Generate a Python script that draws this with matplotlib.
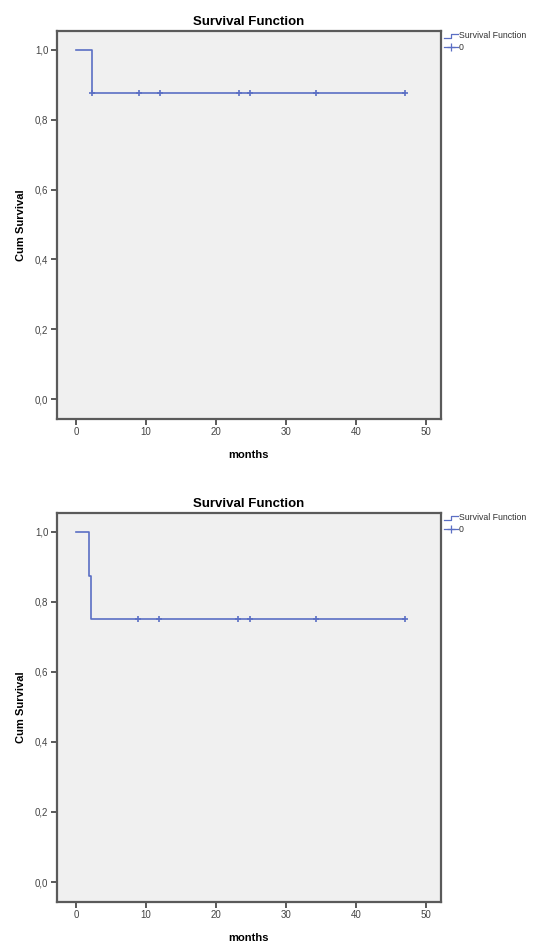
import matplotlib
matplotlib.use('Agg')
import matplotlib.pyplot as plt
from matplotlib.lines import Line2D

plt.rcParams['font.family'] = ['Liberation Sans', 'DejaVu Sans']

# survival data (months, 1 = event, 0 = censored)
top_times = [2.24, 2.24, 9.0, 12.0, 23.25, 24.8, 34.3, 47.0]
top_status = [1, 0, 0, 0, 0, 0, 0, 0]
bottom_times = [1.85, 2.1, 8.9, 11.9, 23.2, 24.8, 34.3, 47.0]
bottom_status = [1, 1, 0, 0, 0, 0, 0, 0]

x_ticks = [0, 10, 20, 30, 40, 50]
y_ticks = [0.0, 0.2, 0.4, 0.6, 0.8, 1.0]

LINE = '#5b6fc4'
BG = '#f0f0f0'
FRAME = '#5a5a5a'


def km(times, status):
    pairs = sorted(zip(times, status), key=lambda p: (p[0], -p[1]))
    n = len(pairs)
    s = 1.0
    xs, ys = [0.0], [1.0]
    cx, cy = [], []
    for t, e in pairs:
        if e:
            xs.append(t); ys.append(s)
            s = s * (n - 1) / n
            xs.append(t); ys.append(s)
        else:
            cx.append(t); cy.append(s)
        n -= 1
    xs.append(max(times)); ys.append(s)
    return xs, ys, cx, cy


def panel(ax, times, status):
    xs, ys, cx, cy = km(times, status)
    ax.set_facecolor(BG)
    ax.plot(xs, ys, color=LINE, lw=1.2)
    ax.plot(cx, cy, ls='none', marker='+', ms=5, mew=1.2, color=LINE)
    ax.set_xlim(-2.75, 52.1)
    ax.set_ylim(-0.057, 1.054)
    ax.set_xticks(x_ticks)
    ax.set_yticks(y_ticks)
    ax.set_yticklabels([f'{v:.1f}'.replace('.', ',') for v in y_ticks])
    ax.tick_params(length=4, width=1.4, color=FRAME, labelsize=7,
                   labelcolor='#444444', pad=2)
    for sp in ax.spines.values():
        sp.set_color(FRAME)
        sp.set_linewidth(1.6)
    ax.set_title('Survival Function', fontsize=9.5, fontweight='bold', pad=4)
    ax.set_xlabel('months', fontsize=8, fontweight='bold', labelpad=9)
    ax.set_ylabel('Cum Survival', fontsize=8, fontweight='bold', labelpad=6)

    # legend outside on the right
    lx0, lx1 = 1.008, 1.045
    ax.plot([lx0, lx0 + 0.018, lx0 + 0.018, lx1], [0.983, 0.983, 0.993, 0.993],
            transform=ax.transAxes, color=LINE, lw=0.9, clip_on=False)
    ax.text(lx1 + 0.003, 0.988, 'Survival Function', transform=ax.transAxes,
            fontsize=6.3, va='center', ha='left', color='#333333')
    ax.add_line(Line2D([lx0, lx1], [0.958, 0.958], transform=ax.transAxes,
                       color=LINE, lw=0.9, clip_on=False))
    ax.plot([(lx0 + lx1) / 2], [0.958], transform=ax.transAxes, marker='+',
            ms=6, mew=0.9, color=LINE, clip_on=False)
    ax.text(lx1 + 0.003, 0.958, '0', transform=ax.transAxes,
            fontsize=6.3, va='center', ha='left', color='#333333')


fig = plt.figure(figsize=(5.55, 9.43), dpi=100)
ax1 = fig.add_axes([0.102, 0.5557, 0.692, 0.4115])
ax2 = fig.add_axes([0.102, 0.0435, 0.692, 0.4125])
panel(ax1, top_times, top_status)
panel(ax2, bottom_times, bottom_status)

fig.savefig('out.png', dpi=100, facecolor='white')
